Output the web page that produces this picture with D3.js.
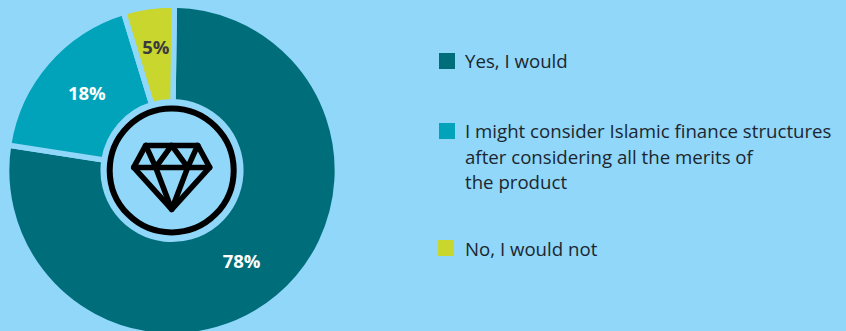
<!DOCTYPE html>
<html>
<head>
<meta charset="utf-8">
<script src="https://cdn.jsdelivr.net/npm/d3@7/dist/d3.min.js"></script>
<style>
html,body{margin:0;padding:0;background:#90d7f9;overflow:hidden}
svg{display:block}
text{font-family:"Open Sans",sans-serif}
</style>
</head>
<body>
<svg id="chart" width="846" height="331"></svg>
<script>
const categories = ["Yes, I would", "I might consider Islamic finance structures", "No, I would not"];
const values = [78, 18, 5];
const labels = ["78%", "18%", "5%"];
const sliceColors = ["#006e7a", "#00a3b9", "#c8d62d"];
const labelColors = ["#ffffff", "#ffffff", "#3a3a40"];
const legendLines = [
  ["Yes, I would"],
  ["I might consider Islamic finance structures", "after considering all the merits of", "the product"],
  ["No, I would not"]
];

const background = "#90d7f9";
const svg = d3.select("#chart");
const cx = 172, cy = 170.5;
const outer = 165.4, inner = 68.8;
const rotation = 0.014;

const pie = d3.pie().sort(null).value(d => d)
  .startAngle(rotation).endAngle(2 * Math.PI + rotation);
const arc = d3.arc().innerRadius(inner).outerRadius(outer);
const labelArc = d3.arc().innerRadius(118).outerRadius(118);
const labelNudge = [[-6.6, 0.7], [4, 0.7], [0.4, -6.1]];
const color = d3.scaleOrdinal().domain(d3.range(values.length)).range(sliceColors);

const g = svg.append("g").attr("transform", `translate(${cx},${cy})`);
const arcs = pie(values);

g.selectAll("path.slice").data(arcs).join("path")
  .attr("class", "slice")
  .attr("d", arc)
  .attr("fill", (d, i) => color(i))
  .attr("stroke", background)
  .attr("stroke-width", 5.5);

// Percentage labels follow the slice's centre angle, with a small per-label shift
g.selectAll("text.pct").data(arcs).join("text")
  .attr("class", "pct")
  .attr("transform", (d, i) => {
    const [x, y] = labelArc.centroid(d);
    return `translate(${x + labelNudge[i][0]},${y + labelNudge[i][1]})`;
  })
  .attr("dy", "0.35em")
  .attr("text-anchor", "middle")
  .attr("font-size", 18.5)
  .attr("font-weight", 700)
  .attr("fill", (d, i) => labelColors[i])
  .text((d, i) => labels[i]);

// Ring and gem emblem in the hole of the donut
const emblem = svg.append("g").attr("transform", "translate(171.7,170.4)");
emblem.append("circle").attr("r", 62).attr("fill", "none").attr("stroke", "#000").attr("stroke-width", 6);
const gem = emblem.append("g").attr("fill", "none").attr("stroke", "#000")
  .attr("stroke-width", 5.5).attr("stroke-linejoin", "round").attr("stroke-linecap", "round");
gem.append("path").attr("d", "M-26,-25H26L38,-3L0,39L-38,-3Z");
gem.append("path").attr("d", "M-38,-3H38");
gem.append("path").attr("d", "M-26,-25L-16,-3L0,-25L16,-3L26,-25");
gem.append("path").attr("d", "M-16,-3L0,39L16,-3");

// Legend
const swatchX = [439, 439, 438];
const swatchY = [53, 123, 240];
const textY = [68, 138, 255.5];
const legend = svg.append("g");
legendLines.forEach((lines, i) => {
  legend.append("rect").attr("x", swatchX[i]).attr("y", swatchY[i]).attr("width", 16).attr("height", 16).attr("fill", sliceColors[i]);
  lines.forEach((line, j) => {
    legend.append("text").attr("x", 465).attr("y", textY[i] + j * 25.5)
      .attr("font-size", 18.65).attr("fill", "#1c2630").text(line);
  });
});
</script>
</body>
</html>
